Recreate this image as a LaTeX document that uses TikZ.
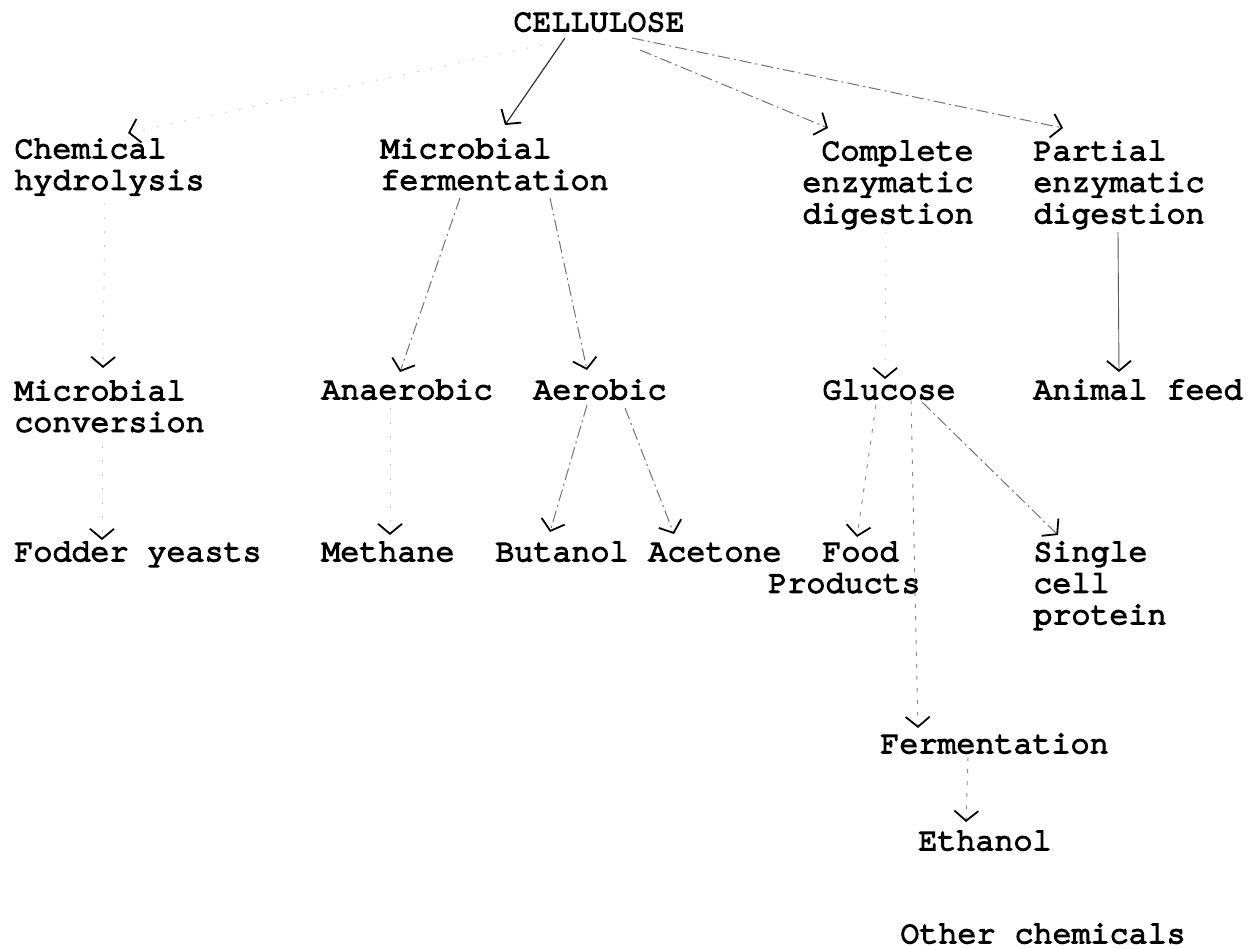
\documentclass[tikz,border=0pt]{standalone}
\usepackage{fontspec}
\newfontfamily\twfont[FakeBold=5]{texgyrecursor-regular.otf}
\usetikzlibrary{arrows.meta}
\tikzset{
  lbl/.style={font=\twfont\fontsize{15.85pt}{15.75pt}\selectfont, inner sep=0pt, anchor=base west, align=left, text=black},
  tipv/.style={-{Straight Barb[length=5pt,width=12pt,black,line width=0.9pt]}},
  solidc/.style={tipv, draw=black!80, line width=0.6pt},
  dashc/.style={tipv, draw=black!55, line width=0.5pt, dash pattern=on 6pt off 2pt on 1pt off 2pt},
  dotc/.style={tipv, draw=black!45, line width=0.45pt, dash pattern=on 2pt off 4pt},
  faintc/.style={tipv, draw=black!20, line width=0.4pt, dash pattern=on 1pt off 6pt},
  plainc/.style={tipv, draw=black!65, line width=0.45pt},
}
\begin{document}
\begin{tikzpicture}[x=0.5pt,y=-0.5pt]
\useasboundingbox[fill=white] (0,0) rectangle (1255,949);

% level 0
\node[lbl] (cell) at (513,31) {CELLULOSE};
% level 1 (multi-line nodes are placed by the baseline of their last line)
\node[lbl] (chem) at (14,189.5) {Chemical\\hydrolysis};
\node[lbl] (micf) at (380,189.5) {Microbial\\fermentation};
\node[lbl, anchor=base east, align=right] (comp) at (974,223) {Complete\\enzymatic\\digestion};
\node[lbl] (part) at (1033,223) {Partial\\enzymatic\\digestion};
% level 2
\node[lbl] (mcon) at (14,431.5) {Microbial\\conversion};
\node[lbl] (anae) at (321,399) {Anaerobic};
\node[lbl] (aero) at (533,399) {Aerobic};
\node[lbl] (gluc) at (822,399) {Glucose};
\node[lbl] (feed) at (1033,399) {Animal feed};
% level 3
\node[lbl] (fodd) at (14,561) {Fodder yeasts};
\node[lbl] (meth) at (321,561) {Methane};
\node[lbl] (buta) at (495,561) {Butanol};
\node[lbl] (acet) at (648,561) {Acetone};
\node[lbl] (food) at (768,592.5) {\hspace*{27pt}Food\\Products};
\node[lbl] (scp) at (1033,624) {Single\\cell\\protein};
% lower
\node[lbl] (ferm) at (880,753) {Fermentation};
\node[lbl] (etha) at (918,850) {Ethanol};
\node[lbl] (othr) at (900,943) {Other chemicals};

% connectors
\draw[faintc] ([shift={(29,14)}]cell.base west) -- ([shift={(114,-56.5)}]chem.base west);
\draw[solidc] ([shift={(52,7)}]cell.base west) -- ([shift={(125,-64.5)}]micf.base west);
\draw[dashc] ([shift={(127,19)}]cell.base west) -- ([shift={(-146,-95)}]comp.base east);
\draw[dashc] ([shift={(119,7)}]cell.base west) -- ([shift={(30,-95)}]part.base west);

\draw[faintc] ([shift={(91,13.5)}]chem.base west) -- ([shift={(89,-63.5)}]mcon.base west);
\draw[dashc] ([shift={(80,8.5)}]micf.base west) -- ([shift={(79,-27)}]anae.base west);
\draw[dashc] ([shift={(170,8.5)}]micf.base west) -- ([shift={(54,-29)}]aero.base west);
\draw[faintc] ([shift={(-88,9)}]comp.base east) -- ([shift={(63,-20)}]gluc.base west);
\draw[plainc] ([shift={(85,9)}]part.base west) -- ([shift={(86,-27)}]feed.base west);

\draw[faintc] ([shift={(88,0.5)}]mcon.base west) -- ([shift={(88,-21)}]fodd.base west);
\draw[faintc] ([shift={(69,9)}]anae.base west) -- ([shift={(69,-26)}]meth.base west);
\draw[dashc] ([shift={(54,6)}]aero.base west) -- ([shift={(55,-29)}]buta.base west);
\draw[dashc] ([shift={(92,9)}]aero.base west) -- ([shift={(26,-27)}]acet.base west);
\draw[dotc] ([shift={(54,6)}]gluc.base west) -- ([shift={(89,-55.5)}]food.base west);
\draw[dotc] ([shift={(89,1)}]gluc.base west) -- ([shift={(38,-25)}]ferm.base west);
\draw[dashc] ([shift={(100,3)}]gluc.base west) -- ([shift={(25,-89)}]scp.base west);
\draw[dotc] ([shift={(88,4)}]ferm.base west) -- ([shift={(48,-28)}]etha.base west);
\end{tikzpicture}
\end{document}
